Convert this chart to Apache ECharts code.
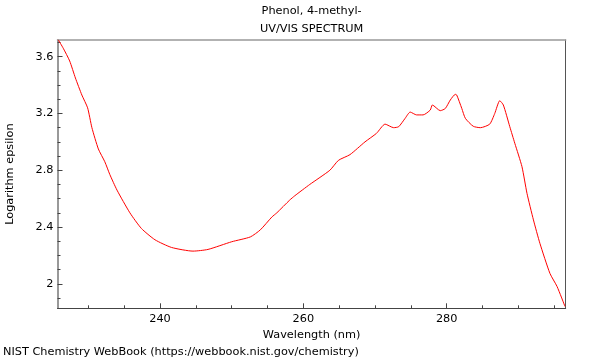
<!DOCTYPE html>
<html><head><meta charset="utf-8">
<script src="https://cdn.jsdelivr.net/npm/echarts@6/dist/echarts.min.js"></script>
<style>html,body{margin:0;padding:0;background:#fff}#c{width:600px;height:360px}</style>
</head><body><div id="c"></div>
<script>
const wavelengths = [225.8,226.5,227.4,228.2,229.1,229.9,230.5,231.4,232.3,233.0,234.0,235.8,237.4,239.3,241.6,244.6,246.7,250.0,252.6,254.0,255.6,256.3,258.1,258.8,260.9,263.7,264.9,266.5,268.6,270.2,271.4,272.6,273.3,274.2,274.9,275.8,276.7,277.7,278.0,279.1,279.8,280.5,281.2,281.4,282.1,282.6,283.7,284.7,286.0,286.7,287.4,287.9,288.8,289.5,290.5,291.2,292.1,293.0,294.4,295.4,296.5];
const logEpsilon = [3.72,3.66,3.57,3.45,3.33,3.24,3.10,2.95,2.86,2.77,2.66,2.50,2.39,2.31,2.256,2.23,2.242,2.296,2.33,2.38,2.47,2.50,2.59,2.62,2.70,2.80,2.87,2.91,3.00,3.06,3.125,3.10,3.107,3.166,3.21,3.19,3.19,3.224,3.26,3.22,3.235,3.295,3.335,3.33,3.236,3.166,3.11,3.10,3.125,3.20,3.29,3.26,3.107,2.99,2.825,2.637,2.45,2.285,2.073,1.98,1.84];
const xMajorTicks = [240,260,280];
const xMinorTicks = [230,235,245,250,255,265,270,275,285,290,295];
const yMajorTicks = [2,2.4,2.8,3.2,3.6];
const yMinorTicks = [1.9,2.1,2.2,2.3,2.5,2.6,2.7,2.9,3.0,3.1,3.3,3.4,3.5,3.7];
const xRange = [225.7,296.6];
const yRange = [1.827,3.718];
const titleLines = ['Phenol, 4-methyl-','UV/VIS SPECTRUM'];
const xName = 'Wavelength (nm)';
const yName = 'Logarithm epsilon';
const footer = 'NIST Chemistry WebBook (https://webbook.nist.gov/chemistry)';

const font = 'DejaVu Sans';
const fs = 11.3;
const chart = echarts.init(document.getElementById('c'), null, {renderer:'canvas'});
const grid = {left:57.5, right:34.3, top:40, bottom:51.7, containLabel:false, outerBoundsMode:'none'};
const axisColor = '#444';
const txt = {fontFamily:font,fontSize:fs,fontWeight:'normal',color:'#000'};
chart.setOption({
  animation:false,
  backgroundColor:'#fff',
  title:[
    {text:titleLines[0], left:311.6, top:5.5, padding:0, textAlign:'center', textStyle:txt},
    {text:titleLines[1], left:311.6, top:23.5, padding:0, textAlign:'center', textStyle:txt},
    {text:footer, left:3, top:347, padding:0, textStyle:txt}
  ],
  grid:grid,
  xAxis:[
    {type:'value', min:xRange[0], max:xRange[1], position:'bottom',
     name:xName, nameLocation:'middle', nameGap:17.5, nameTextStyle:{fontFamily:font,fontSize:fs,color:'#000'},
     axisLine:{show:true,lineStyle:{color:axisColor,width:1}},
     axisTick:{show:true,inside:true,length:5,customValues:xMajorTicks,lineStyle:{color:axisColor}},
     axisLabel:{show:true,customValues:xMajorTicks,fontFamily:font,fontSize:fs,color:'#000',margin:5},
     splitLine:{show:false}},
    {type:'value', min:xRange[0], max:xRange[1], position:'bottom',
     axisLine:{show:false}, axisTick:{show:true,inside:true,length:3,customValues:xMinorTicks,lineStyle:{color:axisColor}},
     axisLabel:{show:false}, splitLine:{show:false}},
    {type:'value', min:xRange[0], max:xRange[1], position:'top',
     axisLine:{show:true,lineStyle:{color:'#999',width:1.5}}, axisTick:{show:false}, axisLabel:{show:false}, splitLine:{show:false}}
  ],
  yAxis:[
    {type:'value', min:yRange[0], max:yRange[1], position:'left',
     name:yName, nameLocation:'middle', nameGap:42, nameRotate:90, nameTextStyle:{fontFamily:font,fontSize:fs,color:'#000'},
     axisLine:{show:true,lineStyle:{color:'#777',width:1.5}},
     axisTick:{show:true,inside:true,length:5,customValues:yMajorTicks,lineStyle:{color:axisColor}},
     axisLabel:{show:true,customValues:yMajorTicks,fontFamily:font,fontSize:fs,color:'#000',margin:4,
       formatter:v=>String(Math.round(v*10)/10)},
     splitLine:{show:false}},
    {type:'value', min:yRange[0], max:yRange[1], position:'left',
     axisLine:{show:false}, axisTick:{show:true,inside:true,length:3,customValues:yMinorTicks,lineStyle:{color:axisColor}},
     axisLabel:{show:false}, splitLine:{show:false}},
    {type:'value', min:yRange[0], max:yRange[1], position:'right',
     axisLine:{show:true,lineStyle:{color:'#555',width:1}}, axisTick:{show:false}, axisLabel:{show:false}, splitLine:{show:false}}
  ],
  series:[{
    type:'line', xAxisIndex:0, yAxisIndex:0, showSymbol:false, smooth:0.2,
    lineStyle:{color:'#ff0000',width:1}, clip:true,
    data:wavelengths.map((w,i)=>[w,logEpsilon[i]])
  }]
});
</script>
</body></html>
